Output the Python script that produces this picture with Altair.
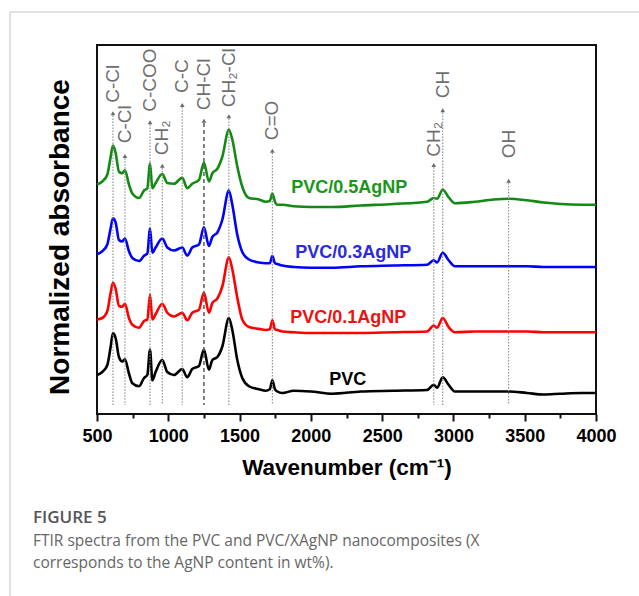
import altair as alt
import pandas as pd

# ---------------- data ----------------
wavenumber = [500, 537, 572, 596, 612, 631, 654, 677, 696, 724, 748, 795, 830, 853, 872, 888,
              911, 958, 993, 1040, 1098, 1133, 1168, 1215, 1250, 1285, 1309, 1344, 1379, 1425,
              1449, 1484, 1519, 1566, 1636, 1683, 1712, 1730, 1748, 1765, 1800, 1880, 2000, 2150,
              2350, 2580, 2815, 2862, 2885, 2925, 2966, 3010, 3150, 3282, 3387, 3516, 3633, 3750,
              3900, 4000]

pvc = [0.24, 0.28, 0.37, 0.62, 0.80, 0.73, 0.48, 0.42, 0.45, 0.26, 0.13, 0.09, 0.20, 0.24, 0.58,
       0.17, 0.28, 0.44, 0.28, 0.24, 0.32, 0.21, 0.32, 0.36, 0.58, 0.31, 0.44, 0.48, 0.62, 1.00,
       0.84, 0.44, 0.20, 0.09, 0.05, 0.03, 0.05, 0.17, 0.05, 0.02, 0.00,
       0.03, 0.02, -0.01, 0.02, 0.03, 0.04, 0.11, 0.07, 0.21, 0.11, 0.02, 0.02, 0.02, 0.02, 0.00,
       -0.02, -0.01, 0.00, 0.00]

pvc_01 = [0.17, 0.19, 0.28, 0.53, 0.66, 0.58, 0.35, 0.34, 0.38, 0.19, 0.10, 0.06, 0.15, 0.17, 0.50,
          0.17, 0.24, 0.38, 0.26, 0.21, 0.26, 0.16, 0.26, 0.30, 0.53, 0.26, 0.39, 0.45, 0.61, 1.00,
          0.84, 0.46, 0.17, 0.07, 0.045, 0.03, 0.04, 0.16, 0.04, 0.03, 0.01,
          0.00, -0.01, -0.01, -0.01, 0.00, 0.01, 0.09, 0.06, 0.19, 0.07, 0.00, 0.01, 0.01, 0.01,
          0.01, 0.00, 0.00, 0.00, 0.00]

pvc_03 = [0.16, 0.20, 0.29, 0.51, 0.64, 0.58, 0.35, 0.33, 0.37, 0.20, 0.11, 0.07, 0.14, 0.17, 0.50,
          0.18, 0.25, 0.37, 0.25, 0.21, 0.25, 0.14, 0.25, 0.29, 0.52, 0.27, 0.39, 0.45, 0.62, 1.01,
          0.82, 0.42, 0.19, 0.09, 0.05, 0.04, 0.04, 0.14, 0.04, 0.03, 0.01,
          -0.01, -0.02, -0.02, 0.00, 0.01, 0.02, 0.08, 0.05, 0.18, 0.08, 0.00, 0.00, 0.00, 0.00,
          0.00, -0.01, -0.01, -0.01, -0.01]

pvc_05 = [0.27, 0.31, 0.40, 0.64, 0.79, 0.69, 0.44, 0.42, 0.46, 0.27, 0.15, 0.09, 0.19, 0.22, 0.55,
          0.22, 0.29, 0.41, 0.29, 0.28, 0.36, 0.22, 0.28, 0.33, 0.56, 0.31, 0.42, 0.48, 0.64, 1.00,
          0.87, 0.51, 0.24, 0.09, 0.07, 0.04, 0.05, 0.15, 0.04, 0.00, 0.00,
          -0.02, -0.03, -0.03, -0.01, 0.01, 0.04, 0.09, 0.08, 0.20, 0.10, 0.02, 0.04, 0.07, 0.08,
          0.06, 0.03, 0.01, 0.00, 0.00]

series_names = ["PVC", "PVC/0.1AgNP", "PVC/0.3AgNP", "PVC/0.5AgNP"]
series_values = [pvc, pvc_01, pvc_03, pvc_05]
series_offsets = [0.0, 0.81, 1.69, 2.51]
series_colors = ["#000000", "#ff0000", "#0000ff", "#138a13"]
label_colors = ["#000000", "#f01010", "#2b2bdc", "#1a961a"]
series_label_wn = [2259, 2263, 2298, 2270]
series_label_y = [0.11, 0.93, 1.80, 2.67]

peak_wn = [612, 696, 872, 958, 1098, 1250, 1425, 1730, 2862, 2925, 3387]
peak_labels = ["C-Cl", "C-Cl", "C-COO", "CH\u2082", "C-C", "CH-Cl", "CH\u2082-Cl", "C=O",
               "CH\u2082", "CH", "OH"]
peak_label_y = [3.87, 3.33, 3.75, 3.17, 4.00, 3.77, 3.81, 3.37, 3.15, 3.93, 3.13]
peak_arrow_y = [3.77, 3.20, 3.65, 3.07, 3.88, 3.67, 3.73, 3.27, 3.08, 3.81, 2.87]

x_ticks = [500, 750, 1000, 1250, 1500, 1750, 2000, 2250, 2500, 2750, 3000, 3250, 3500, 3750, 4000]

caption_title = "FIGURE 5"
caption_lines = ["FTIR spectra from the PVC and PVC/XAgNP nanocomposites (X",
                 "corresponds to the AgNP content in wt%)."]

# ---------------- tables ----------------
rows = []
for name, vals, off in zip(series_names, series_values, series_offsets):
    for w, v in zip(wavenumber, vals):
        rows.append({"series": name, "wn": w, "absorbance": v + off})
spec_df = pd.DataFrame(rows)

peaks_df = pd.DataFrame({
    "wn": peak_wn, "label": peak_labels, "ly": peak_label_y, "ay": peak_arrow_y,
})
peaks_df["ay_pt"] = peaks_df["ay"] - 0.04
peaks_df["line_top"] = peaks_df["ay"] - 0.07
peaks_df["line_bot"] = -0.16

slabels_df = pd.DataFrame({"series": series_names, "wn": series_label_wn, "y": series_label_y})

FONT = "Liberation Sans"
W, H = 499, 369
xs = alt.Scale(domain=[500, 4000], nice=False, zero=False)
ys = alt.Scale(domain=[-0.28, 4.64], nice=False, zero=False)
color_scale = alt.Scale(domain=series_names, range=series_colors)
text_color_scale = alt.Scale(domain=series_names, range=label_colors)

x_axis = alt.Axis(
    values=x_ticks, format="d", orient="bottom",
    labelExpr="datum.value % 500 === 0 ? datum.label : ''",
    tickSize={"condition": {"test": "datum.value % 500 === 0", "value": 7}, "value": 4},
    tickWidth=2, tickColor="#111", domain=False, grid=False,
    labelFont=FONT, labelFontSize=18, labelFontWeight="bold", labelColor="#000",
    labelPadding=6, labelOverlap=False, labelFlush=False,
    title="Wavenumber (cm\u207b\u00b9)", titleFont=FONT, titleFontSize=22.5,
    titleFontWeight="bold", titleColor="#000", titleY=60, titleBaseline="alphabetic",
)
y_axis = alt.Axis(
    labels=False, ticks=False, domain=False, grid=False,
    title="Normalized absorbance", titleFont=FONT, titleFontSize=28, titleFontWeight="bold",
    titleColor="#000", titleAngle=270, titleX=-29, titleY=191.5, titleAlign="center",
    titleBaseline="alphabetic",
)


def X(field):
    return alt.X(field, scale=xs, axis=x_axis)


def Y(field):
    return alt.Y(field, scale=ys, axis=y_axis)


spectra = alt.Chart(spec_df).mark_line(
    strokeWidth=2.6, strokeJoin="round", interpolate="monotone"
).encode(
    x=X("wn:Q"),
    y=Y("absorbance:Q"),
    color=alt.Color("series:N", scale=color_scale, legend=None),
    detail="series:N",
    order="wn:Q",
)

dotted = alt.Chart(peaks_df).transform_filter(alt.datum.label != "CH-Cl").mark_rule(
    color="#8a8a8a", strokeWidth=1.1, strokeDash=[1.5, 1.5]
).encode(x=X("wn:Q"), y=Y("line_top:Q"), y2="line_bot:Q")

dashed = alt.Chart(peaks_df).transform_filter(alt.datum.label == "CH-Cl").mark_rule(
    color="#666666", strokeWidth=1.6, strokeDash=[4, 3]
).encode(x=X("wn:Q"), y=Y("line_top:Q"), y2="line_bot:Q")

arrows = alt.Chart(peaks_df).mark_point(
    shape="triangle-up", filled=True, size=22, color="#6a6a6a", opacity=1
).encode(x=X("wn:Q"), y=Y("ay_pt:Q"))

peak_text = alt.Chart(peaks_df).mark_text(
    angle=270, align="left", baseline="middle", font=FONT, fontSize=19, color="#6e6e6e"
).encode(x=X("wn:Q"), y=Y("ly:Q"), text="label:N")

series_text = alt.Chart(slabels_df).mark_text(
    align="center", baseline="alphabetic", font=FONT, fontSize=18, fontWeight="bold"
).encode(
    x=X("wn:Q"), y=Y("y:Q"), text="series:N",
    color=alt.Color("series:N", scale=text_color_scale, legend=None),
)

one = alt.Data(values=[{}])
border_top = alt.Chart(one).mark_rule(color="#d8d8d8", strokeWidth=1.5).encode(
    x=alt.value(-87), x2=alt.value(542), y=alt.value(-33))
border_left = alt.Chart(one).mark_rule(color="#d8d8d8", strokeWidth=1.5).encode(
    x=alt.value(-87), y=alt.value(-33), y2=alt.value(551))
cap_title = alt.Chart(one).mark_text(
    align="left", baseline="alphabetic", font="Open Sans", fontSize=17, fontWeight=600,
    color="#555555", text=caption_title
).encode(x=alt.value(-64), y=alt.value(478))
cap_l1 = alt.Chart(one).mark_text(
    align="left", baseline="alphabetic", font="Open Sans", fontSize=15.5, color="#666666",
    text=caption_lines[0]
).encode(x=alt.value(-64), y=alt.value(501))
cap_l2 = alt.Chart(one).mark_text(
    align="left", baseline="alphabetic", font="Open Sans", fontSize=15.5, color="#666666",
    text=caption_lines[1]
).encode(x=alt.value(-64), y=alt.value(523))

chart = alt.layer(
    spectra, dotted, dashed, arrows, peak_text, series_text,
    border_top, border_left, cap_title, cap_l1, cap_l2,
).resolve_scale(color="independent").properties(
    width=W, height=H,
    autosize=alt.AutoSizeParams(type="none"),
    padding={"left": 97, "top": 45, "right": 43, "bottom": 182},
).configure_view(
    stroke="#111111", strokeWidth=2
)

chart.save("out.html", embed_options={"renderer": "svg", "actions": False})
